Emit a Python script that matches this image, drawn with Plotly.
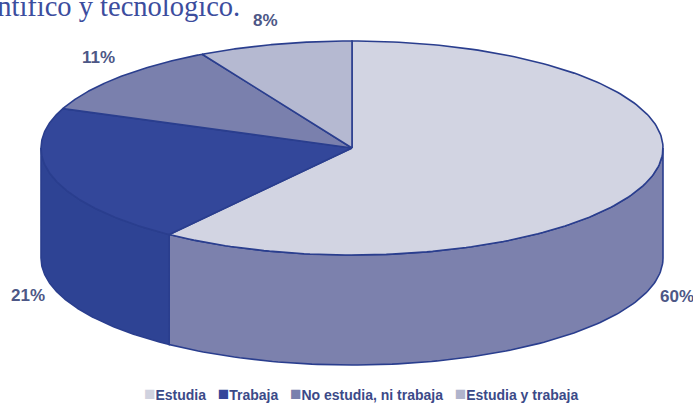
import numpy as np
import plotly.graph_objects as go

# ---- data ----
categories = ["Estudia", "Trabaja", "No estudia, ni trabaja", "Estudia y trabaja"]
values = [60, 21, 11, 8]
pct_labels = ["60%", "21%", "11%", "8%"]
top_colors = ["#d2d4e2", "#33479a", "#7a80ad", "#b5b9d1"]
side_colors = ["#7c81ad", "#2e4394", "#6b72a3", "#9ea3c2"]
legend_colors = ["#d0d2df", "#33479a", "#7a80ad", "#b0b4cc"]
title_text = "científico y tecnológico."

# ---- layout parameters (pixel space) ----
W, H = 693, 415
cx, cy = 352, 148
rx, ry = 311, 107
depth = 110
outline = "#2a3e8e"
label_pos = [(677, 296), (28, 295), (98, 57), (265, 20)]
FONT_NARROW = "Liberation Sans Narrow, Liberation Sans, Arial"

fig = go.Figure()

total = float(sum(values))
fr = np.array(values) / total
starts = 90 - 360 * np.concatenate([[0], np.cumsum(fr)[:-1]])
ends = starts - 360 * fr


def pt(phi_deg, dy=0.0):
    p = np.radians(phi_deg)
    return cx + rx * np.cos(p), cy - ry * np.sin(p) + dy


# side walls (front half only: angles between -180 and 0)
for i in range(len(values)):
    a0, a1 = starts[i], ends[i]
    lo, hi = max(min(a0, a1), -180), min(max(a0, a1), 0)
    if lo >= hi:
        continue
    ph = np.linspace(hi, lo, 120)
    xt, yt = pt(ph)
    xb, yb = pt(ph[::-1], depth)
    xs = np.concatenate([xt, xb, xt[:1]])
    ys = np.concatenate([yt, yb, yt[:1]])
    fig.add_trace(go.Scatter(x=xs, y=ys, mode="lines", fill="toself",
                             fillcolor=side_colors[i],
                             line=dict(color=outline, width=1.6),
                             hoverinfo="skip", showlegend=False))

# top faces
for i in range(len(values)):
    ph = np.linspace(starts[i], ends[i], 200)
    xa, ya = pt(ph)
    xs = np.concatenate([[cx], xa, [cx]])
    ys = np.concatenate([[cy], ya, [cy]])
    fig.add_trace(go.Scatter(x=xs, y=ys, mode="lines", fill="toself",
                             fillcolor=top_colors[i],
                             line=dict(color=outline, width=1.6),
                             name=categories[i],
                             hoverinfo="name", showlegend=False))

annotations = []
for (lx, ly), t in zip(label_pos, pct_labels):
    annotations.append(dict(x=lx, y=ly, xref="x", yref="y", text=t, showarrow=False,
                            font=dict(family=FONT_NARROW, size=17, color="#4d5786", weight="bold"),
                            xanchor="center", yanchor="middle"))

# title fragment (cut off at top-left as in the source)
annotations.append(dict(x=-38 / W, y=1 - 6 / H, xref="paper", yref="paper", text=title_text,
                        showarrow=False,
                        font=dict(family="Liberation Serif, DejaVu Serif, serif", size=28.5, color="#3c4d9e"),
                        xanchor="left", yanchor="middle"))

# legend row
sep = "&nbsp;&nbsp;&nbsp;"
legend_text = sep.join(
    f"<span style='color:{col};font-size:19px'>■</span>{name}" for name, col in zip(categories, legend_colors)
)
annotations.append(dict(x=361 / W, y=1 - 393 / H, xref="paper", yref="paper", text=legend_text,
                        showarrow=False,
                        font=dict(family=FONT_NARROW, size=14, color="#3b4a88", weight="bold"),
                        xanchor="center", yanchor="middle"))

fig.update_layout(
    width=W, height=H, autosize=False,
    margin=dict(l=0, r=0, t=0, b=0),
    paper_bgcolor="white", plot_bgcolor="white",
    xaxis=dict(range=[0, W], visible=False, fixedrange=True),
    yaxis=dict(range=[H, 0], visible=False, fixedrange=True),
    showlegend=False,
    annotations=annotations,
)

fig.write_html("out.html", config={"displayModeBar": False},
               post_script="document.body.style.margin='0px';")
